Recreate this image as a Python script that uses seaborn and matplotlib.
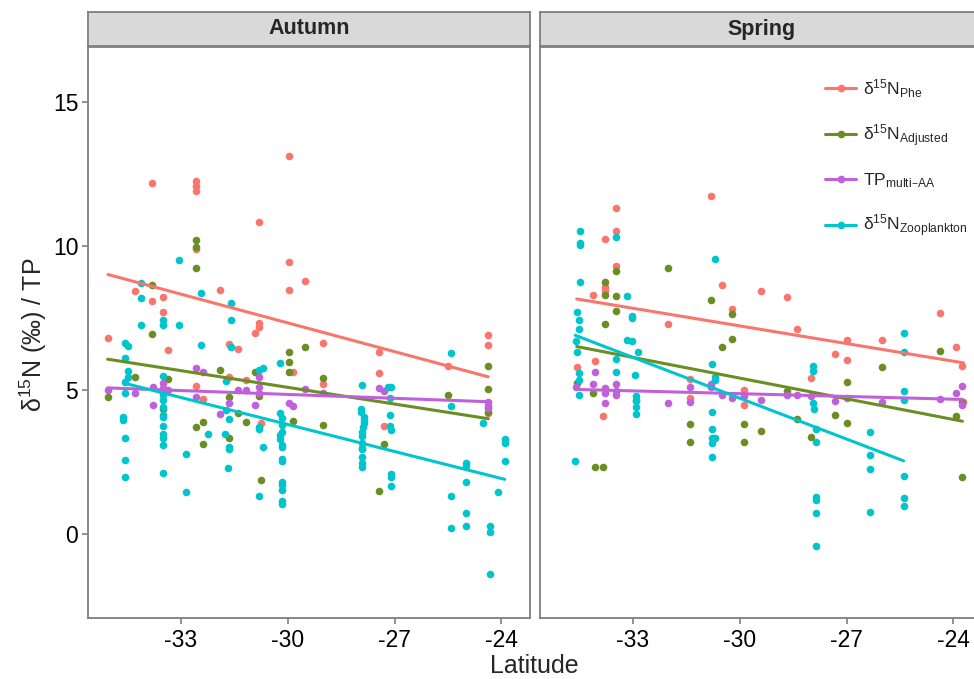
import numpy as np
import pandas as pd
import matplotlib
matplotlib.use("Agg")
import matplotlib.pyplot as plt
from matplotlib.lines import Line2D
import seaborn as sns

# === DATA ===
seasons = ["Autumn", "Spring"]
series = ["Phe", "Adjusted", "TP", "Zoo"]
series_labels = [r"$\delta^{15}N_{Phe}$", r"$\delta^{15}N_{Adjusted}$",
                 "$TP_{multi\u2013AA}$", r"$\delta^{15}N_{Zooplankton}$"]
colors = ["#F8766D", "#6B8E23", "#C061DB", "#00C5CD"]

x_ticks = [-33, -30, -27, -24]
y_ticks = [0, 5, 10, 15]

# Autumn
aut_phe_lat = [-29.97, -33.80, -32.58, -32.58, -32.58, -30.79, -29.97, -29.5, -29.97, -34.29,
               -33.80, -33.50, -33.50, -32.58, -31.91, -30.79, -30.79, -30.92, -35.04, -33.36,
               -31.64, -31.4, -29.85, -32.58, -32.36, -31.64, -31.18, -30.74, -29.01, -29.01,
               -27.45, -27.45, -27.30, -25.51, -24.37, -24.37, -24.37]
aut_phe = [13.12, 12.2, 12.26, 12.08, 11.9, 10.83, 9.45, 8.78, 8.49, 8.43,
           8.1, 8.24, 7.72, 9.88, 8.47, 7.34, 7.18, 6.99, 6.8, 6.41,
           6.59, 6.44, 5.63, 5.14, 4.7, 5.44, 5.35, 3.87, 6.62, 5.21,
           6.33, 5.58, 3.76, 5.84, 6.92, 6.56, 4.2]

aut_adj_lat = [-32.58, -32.58, -32.58, -33.80, -33.80, -35.05, -34.29, -33.36, -33.5, -32.58,
               -32.36, -32.36, -31.91, -31.64, -31.64, -31.4, -31.18, -30.92, -30.8, -30.74,
               -29.97, -29.97, -29.97, -29.5, -29.85, -29.01, -29.01, -27.45, -27.30, -25.49,
               -24.37, -24.37, -24.37]
aut_adj = [10.2, 9.97, 9.23, 8.66, 6.96, 4.78, 5.44, 5.4, 4.34, 3.74,
           3.88, 3.15, 5.7, 4.77, 3.35, 4.2, 3.88, 5.63, 4.8, 1.87,
           6.31, 5.96, 5.63, 6.48, 3.93, 5.41, 3.79, 1.49, 3.15, 4.85,
           5.85, 5.03, 4.24]

aut_tp_lat = [-35.05, -34.29, -33.79, -33.79, -33.5, -33.5, -33.5, -33.36, -32.58, -32.58,
              -32.36, -31.91, -31.64, -31.4, -31.18, -30.92, -30.8, -30.8, -30.8, -29.97,
              -29.85, -29.5, -29.01, -27.45, -27.30, -24.37, -24.37, -24.37]
aut_tp = [5.0, 4.91, 5.1, 4.48, 5.24, 5.06, 4.92, 5.0, 5.78, 4.77,
          5.64, 4.16, 4.54, 5.0, 5.0, 4.48, 5.46, 5.12, 4.91, 4.54,
          4.45, 5.03, 4.89, 5.08, 4.97, 4.6, 4.45, 4.37]

aut_zoo_lat = [-33.04, -34.10, -34.10, -34.10, -33.5, -33.5, -33.04, -32.43, -32.43, -31.6,
               -31.6, -31.6, -34.57, -34.48, -34.57, -34.49, -34.49, -34.57, -34.57, -34.61,
               -34.61, -34.55, -34.55, -34.55, -33.5, -33.5, -33.5, -33.5, -33.5, -33.5,
               -33.5, -33.5, -33.5, -33.5, -33.5, -32.86, -32.86, -32.23, -31.72, -31.72,
               -31.64, -31.75, -31.64, -31.64, -31.67, -30.79, -30.69, -30.79, -30.79, -30.69,
               -30.79, -30.22, -30.22, -30.17, -30.17, -30.17, -30.22, -30.22, -30.15, -30.15,
               -30.15, -30.15, -30.15, -30.15, -30.15, -30.15, -30.15, -27.91, -27.93, -27.93,
               -27.87, -27.85, -27.85, -27.88, -27.9, -27.92, -27.91, -27.91, -27.91, -27.91,
               -27.91, -27.91, -27.19, -27.1, -27.14, -27.14, -27.14, -27.11, -27.11, -27.11,
               -27.11, -25.42, -25.42, -25.42, -25.42, -25.0, -25.0, -25.0, -25.0, -25.0,
               -24.52, -24.33, -24.33, -24.33, -24.1, -23.91, -23.91, -23.91]
aut_zoo = [9.53, 8.72, 8.18, 7.25, 7.43, 7.26, 7.25, 8.37, 6.55, 8.03,
           7.45, 6.5, 6.62, 6.54, 6.1, 5.67, 5.44, 5.29, 4.89, 4.08,
           3.96, 3.33, 2.58, 2.0, 5.49, 4.83, 4.66, 4.42, 4.14, 4.06,
           3.76, 3.47, 3.35, 3.09, 2.13, 2.78, 1.46, 3.48, 5.32, 4.31,
           4.01, 3.48, 3.04, 2.95, 2.31, 5.7, 5.78, 3.73, 3.64, 3.04,
           1.34, 5.95, 4.2, 4.03, 3.8, 3.55, 3.44, 3.29, 3.1, 3.04,
           2.55, 2.61, 1.82, 1.7, 1.54, 1.15, 1.07, 5.17, 4.33, 4.25,
           4.08, 3.97, 3.85, 3.73, 3.56, 3.41, 3.16, 3.0, 2.95, 2.69,
           2.48, 2.34, 5.1, 5.1, 4.72, 4.14, 3.76, 3.62, 2.09, 1.98,
           1.69, 6.28, 4.45, 1.33, 0.21, 2.48, 2.38, 1.8, 0.73, 0.3,
           3.85, 0.29, 0.09, -1.38, 1.46, 3.29, 3.18, 2.53]

# Spring
spr_phe_lat = [-30.79, -33.48, -33.48, -33.48, -33.78, -33.78, -33.78, -34.1, -30.5, -30.22,
               -32.02, -34.06, -34.57, -31.39, -31.39, -29.89, -29.89, -33.82, -29.4, -28.67,
               -28.39, -27.0, -27.0, -26.01, -24.39, -23.93, -23.77, -27.33, -28.01, -23.72]
spr_phe = [11.75, 11.3, 10.52, 9.3, 10.23, 8.59, 8.45, 8.29, 8.63, 7.82,
           7.28, 6.01, 5.79, 5.4, 4.72, 5.0, 4.47, 4.11, 8.44, 8.24,
           7.13, 6.75, 6.04, 6.75, 7.67, 6.5, 5.85, 6.25, 5.42, 4.6]

spr_adj_lat = [-32.02, -33.48, -33.48, -33.48, -33.78, -33.78, -33.78, -30.79, -30.22, -30.22,
               -30.5, -34.57, -34.1, -31.39, -31.39, -29.88, -29.88, -34.06, -33.82, -26.01,
               -24.39, -27.0, -27.0, -29.4, -28.67, -28.39, -28.01, -27.33, -23.93, -23.77,
               -23.75]
spr_adj = [9.22, 9.12, 8.25, 7.73, 8.75, 8.3, 7.29, 8.11, 7.63, 6.76,
           6.5, 5.26, 4.89, 3.82, 3.19, 3.81, 3.19, 2.32, 2.32, 5.81,
           6.36, 5.29, 3.87, 3.59, 4.97, 3.99, 3.36, 4.14, 4.1, 4.6,
           2.0]

spr_tp_lat = [-34.06, -34.1, -33.48, -33.48, -33.48, -34.59, -31.39, -31.39, -30.79, -30.79,
              -33.78, -33.78, -33.78, -32.02, -30.5, -30.22, -29.89, -29.4, -28.67, -28.39,
              -28.01, -27.33, -27.0, -26.01, -24.39, -23.93, -23.75, -23.77]
spr_tp = [5.64, 5.22, 5.2, 4.98, 4.83, 5.12, 5.12, 4.58, 5.2, 5.12,
          5.06, 4.91, 4.56, 4.54, 4.82, 4.72, 4.8, 4.66, 4.83, 4.83,
          4.8, 4.62, 4.72, 4.59, 4.69, 4.91, 5.14, 4.48]

spr_zoo_lat = [-34.48, -34.48, -34.48, -34.48, -33.48, -33.17, -30.68, -34.57, -34.51, -34.51,
               -33.02, -33.02, -34.6, -34.55, -33.17, -33.02, -32.85, -33.47, -33.47, -34.51,
               -34.51, -34.51, -32.94, -30.78, -30.68, -30.68, -32.9, -32.9, -32.9, -32.9,
               -32.9, -30.78, -30.78, -30.78, -30.68, -30.78, -30.78, -34.61, -25.4, -25.4,
               -25.4, -25.4, -25.4, -25.4, -25.4, -27.93, -27.93, -27.93, -27.9, -27.86,
               -27.86, -27.86, -27.86, -27.86, -27.86, -26.33, -26.33, -26.33, -26.33]
spr_zoo = [10.53, 10.12, 10.04, 8.75, 10.3, 8.27, 9.54, 7.71, 7.44, 7.12,
           7.58, 7.51, 6.71, 6.33, 6.74, 6.69, 6.32, 6.08, 5.64, 5.58,
           5.37, 4.82, 5.52, 5.92, 5.44, 5.37, 4.66, 4.8, 4.61, 4.4,
           4.16, 4.23, 3.65, 3.33, 3.33, 3.16, 2.69, 2.53, 6.99, 6.32,
           4.98, 4.66, 2.03, 1.25, 0.98, 5.85, 5.65, 4.54, 4.33, 3.67,
           3.21, 1.28, 1.19, 0.75, -0.41, 3.55, 2.74, 2.27, 0.77]

# === LONG TABLE ===
parts = []
raw = {
    ("Autumn", "Phe"): (aut_phe_lat, aut_phe),
    ("Autumn", "Adjusted"): (aut_adj_lat, aut_adj),
    ("Autumn", "TP"): (aut_tp_lat, aut_tp),
    ("Autumn", "Zoo"): (aut_zoo_lat, aut_zoo),
    ("Spring", "Phe"): (spr_phe_lat, spr_phe),
    ("Spring", "Adjusted"): (spr_adj_lat, spr_adj),
    ("Spring", "TP"): (spr_tp_lat, spr_tp),
    ("Spring", "Zoo"): (spr_zoo_lat, spr_zoo),
}
for (season, s), (lat, val) in raw.items():
    parts.append(pd.DataFrame({"season": season, "series": s, "lat": lat, "val": val}))
df = pd.concat(parts, ignore_index=True)

# === STYLE ===
sns.set_theme(style="white")
plt.rcParams["font.family"] = ["Liberation Sans", "DejaVu Sans"]
plt.rcParams["mathtext.default"] = "regular"
border = "#7F7F7F"

W, H = 974, 679
fig = plt.figure(figsize=(W / 100, H / 100), dpi=100)

def frac(x0, y0, x1, y1):
    return [x0 / W, 1 - y1 / H, (x1 - x0) / W, (y1 - y0) / H]

panel_px = [(88, 530), (540, 982)]
for i, season in enumerate(seasons):
    x0, x1 = panel_px[i]
    ax = fig.add_axes(frac(x0, 47, x1, 618))
    sub = df[df["season"] == season]
    for s, c in zip(series, colors):
        d = sub[sub["series"] == s]
        sns.scatterplot(data=d, x="lat", y="val", color=c, s=30, linewidth=0,
                        ax=ax, legend=False, zorder=2)
    for s, c in zip(series, colors):
        d = sub[sub["series"] == s]
        sns.regplot(data=d, x="lat", y="val", scatter=False, ci=None, truncate=True,
                    color=c, line_kws={"lw": 2.2, "zorder": 3}, ax=ax)
    ax.set_xlim(-35.6, -23.2)
    ax.set_ylim(-2.9, 16.9)
    ax.set_xticks(x_ticks)
    ax.set_xticklabels([str(t) for t in x_ticks])
    ax.set_yticks(y_ticks)
    ax.set_xlabel("")
    ax.set_ylabel("")
    for sp in ax.spines.values():
        sp.set_color(border)
        sp.set_linewidth(1.3)
    ax.tick_params(axis="both", direction="out", length=4, width=1.2, color=border,
                   labelsize=16.5, labelcolor="black", pad=3,
                   bottom=True, left=(i == 0), labelleft=(i == 0))
    ax.tick_params(axis="x", pad=4)

    # strip header
    sax = fig.add_axes(frac(x0, 12, x1, 46))
    sax.set_facecolor("#D9D9D9")
    sax.set_xticks([])
    sax.set_yticks([])
    for sp in sax.spines.values():
        sp.set_color(border)
        sp.set_linewidth(1.3)
    sax.text(0.5, 0.5, season, ha="center", va="center", fontsize=15.5,
             fontweight="bold", transform=sax.transAxes)

    if i == 1:
        handles = [Line2D([0], [0], color=c, lw=2.2, marker="o", markersize=4.5)
                   for c in colors]
        ax.legend(handles, series_labels, loc="upper left", bbox_to_anchor=(0.61, 0.975),
                  frameon=False, fontsize=12.5, handlelength=1.8, handletextpad=0.4,
                  labelspacing=1.3)

fig.text(534 / W, 1 - 666 / H, "Latitude", ha="center", va="center", fontsize=18)
fig.text(33 / W, 1 - 335 / H, r"$\delta^{15}N$ (‰) / TP", ha="center", va="center",
         rotation=90, fontsize=18)

fig.savefig("out.png", dpi=100)
